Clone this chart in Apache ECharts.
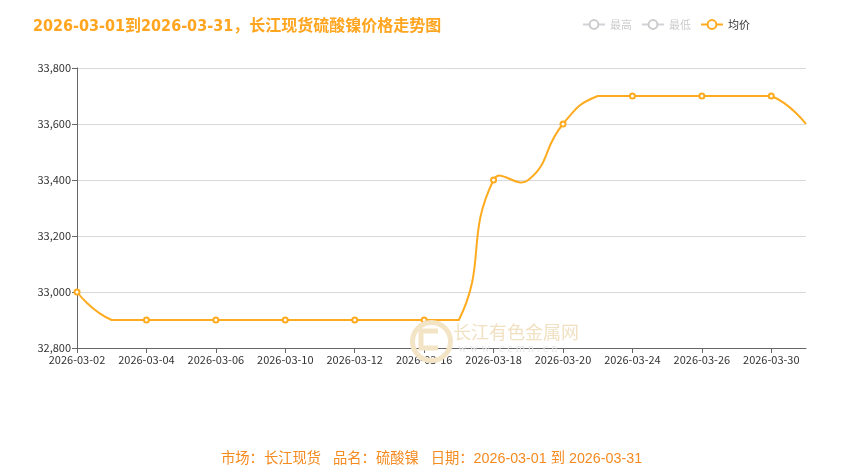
<!DOCTYPE html>
<html><head><meta charset="utf-8">
<script src="https://cdn.jsdelivr.net/npm/echarts@6/dist/echarts.min.js"></script>
<style>html,body{margin:0;padding:0;background:#fff}#c{width:846px;height:471px}</style>
</head><body><div id="c"></div>
<script>
var categories = ['2026-03-02','2026-03-03','2026-03-04','2026-03-05','2026-03-06','2026-03-09','2026-03-10','2026-03-11','2026-03-12','2026-03-13','2026-03-16','2026-03-17','2026-03-18','2026-03-19','2026-03-20','2026-03-23','2026-03-24','2026-03-25','2026-03-26','2026-03-27','2026-03-30','2026-03-31'];
var avgPrice = [33000,32900,32900,32900,32900,32900,32900,32900,32900,32900,32900,32900,33400,33400,33600,33700,33700,33700,33700,33700,33700,33600];
var highPrice = [];
var lowPrice = [];
var yTicks = {min: 32800, max: 33800, step: 200};
var titleText = '2026-03-01到2026-03-31，长江现货硫酸镍价格走势图';
var footText = '市场：长江现货   品名：硫酸镍   日期：2026-03-01 到 2026-03-31';
var legendNames = ['最高', '最低', '均价'];

var cjk = '"Noto Sans CJK SC"';
var lineColor = '#ffab1f';
var chart = echarts.init(document.getElementById('c'));
chart.setOption({
  animation: false,
  textStyle: {fontFamily: cjk},
  title: [{
    text: titleText, left: 28, top: 14,
    textStyle: {color: '#ffa51f', fontSize: 16, fontWeight: 'bold', fontFamily: '"DejaVu Sans Condensed",' + cjk}
  }, {
    text: footText, left: 216, top: 447,
    textStyle: {color: '#f58a1f', fontSize: 14.3, fontWeight: 'normal', fontFamily: '"Liberation Sans",' + cjk}
  }],
  legend: {
    right: 91, top: 14, itemWidth: 22, itemHeight: 11, itemGap: 9,
    textStyle: {fontSize: 11, color: '#333'},
    inactiveColor: '#ccc',
    data: [legendNames[0], legendNames[1], {name: legendNames[2], lineStyle: {opacity: 1, width: 2, color: lineColor}}],
    selected: {'最高': false, '最低': false, '均价': true}
  },
  grid: {left: 77, right: 40, top: 68, bottom: 123},
  xAxis: {
    type: 'category', boundaryGap: false, data: categories,
    axisLine: {lineStyle: {color: '#666'}},
    axisTick: {alignWithLabel: true, lineStyle: {color: '#666'}},
    axisLabel: {color: '#333', fontSize: 11, interval: 1, margin: 6}
  },
  yAxis: {
    type: 'value', min: yTicks.min, max: yTicks.max, interval: yTicks.step,
    axisLine: {show: true, lineStyle: {color: '#666'}},
    axisTick: {show: true, lineStyle: {color: '#666'}},
    axisLabel: {color: '#333', fontSize: 11, margin: 6},
    splitLine: {lineStyle: {color: '#d9d9d9'}}
  },
  color: ['#c23531', '#2f4554', lineColor],
  series: [
    {name: '最高', type: 'line', data: highPrice},
    {name: '最低', type: 'line', data: lowPrice},
    {name: '均价', type: 'line', data: avgPrice, z: 3,
     symbol: 'emptyCircle', showAllSymbol: true,
     symbolSize: function (v, p) { return p.dataIndex % 2 === 0 ? 5 : 0; },
     lineStyle: {width: 2, color: lineColor, opacity: 0}, itemStyle: {color: lineColor}},
    {name: '均价', type: 'custom', z: 2, silent: true,
     data: [[0, avgPrice[0]]],
     renderItem: function (params, api) {
       var pts = avgPrice.map(function (v, i) { return api.coord([i, v]); });
       return {
         type: 'polyline',
         shape: {points: pts, smooth: 0.5, smoothConstraint: [pts[0].slice(), pts[0].slice()]},
         style: {stroke: lineColor, lineWidth: 2, fill: null}
       };
     }}
  ],
  graphic: [
    {type: 'circle', left: 410, top: 320, shape: {r: 19}, style: {fill: 'none', stroke: '#f3e4c6', lineWidth: 5}, z: 100, silent: true},
    {type: 'polyline', shape: {points: [[438, 331], [421, 331], [421, 348], [438, 348]]}, style: {stroke: '#f3e4c6', lineWidth: 5, fill: null}, z: 100, silent: true},
    {type: 'text', left: 453, top: 323, style: {text: '长江有色金属网', fill: '#f1e1c2', font: '18px ' + cjk}, z: 100, silent: true},
    {type: 'text', left: 458, top: 343, style: {text: 'w w w . c c m n . c n', fill: '#e8e8e8', font: '12px serif'}, z: 100, silent: true}
  ]
});
</script></body></html>
